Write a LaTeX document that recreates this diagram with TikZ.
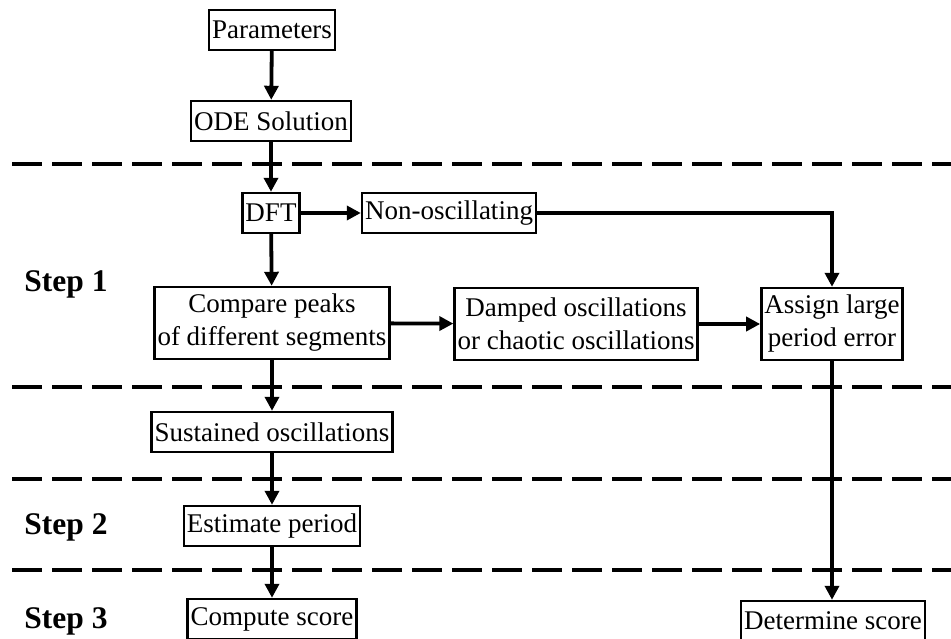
\documentclass[tikz,border=0pt]{standalone}
\usepackage{fontspec}
\setmainfont{Liberation Serif}
\usetikzlibrary{arrows.meta}
\tikzset{
  box/.style={draw, line width=2.4pt, inner xsep=3pt, inner ysep=2pt, align=center, minimum height=40pt, font=\fontsize{27}{33}\selectfont},
  tall/.style={minimum height=72pt},
  steplabel/.style={font=\fontsize{31.5}{34}\selectfont\bfseries},
  flow/.style={line width=3.8pt, -{Triangle[length=14pt,width=14pt]}},
  sep/.style={line width=3.8pt, dash pattern=on 30pt off 10pt}
}
\begin{document}
\begin{tikzpicture}[x=1pt,y=-1pt]
\useasboundingbox (0,0) rectangle (951,639);
% separators
\draw[sep] (12,164) -- (951,164);
\draw[sep] (12,387) -- (951,387);
\draw[sep] (12,479) -- (951,479);
\draw[sep] (12,570) -- (951,570);
% nodes
\node[box] (par) at (272,30) {Parameters};
\node[box] (ode) at (271,121) {ODE Solution};
\node[box] (dft) at (271,213) {DFT};
\node[box] (non) at (449,213) {Non-oscillating};
\node[box,tall] (cmp) at (272,323) {Compare peaks\\of different segments};
\node[box,tall] (dmp) at (576,324) {Damped oscillations\\or chaotic oscillations};
\node[box,tall] (asg) at (832,324) {Assign large\\period error};
\node[box] (sus) at (272,432) {Sustained oscillations};
\node[box] (est) at (272,526) {Estimate period};
\node[box] (cmpsc) at (272,619) {Compute score};
\node[box] (det) at (833,621) {Determine score};
\node[steplabel] (s1) at (66,284) {Step 1};
\node[steplabel] (s2) at (66,527) {Step 2};
\node[steplabel] (s3) at (66,621) {Step 3};
% connectors
\draw[flow] (par) -- (ode);
\draw[flow] (ode) -- (dft);
\draw[flow] (dft) -- (non);
\draw[flow] (non.east) -| (asg.north);
\draw[flow] (dft) -- (cmp);
\draw[flow] (cmp) -- (dmp);
\draw[flow] (dmp) -- (asg);
\draw[flow] (cmp) -- (sus);
\draw[flow] (sus) -- (est);
\draw[flow] (est) -- (cmpsc);
\draw[flow] (asg.south) -- (asg.south |- det.north);
\end{tikzpicture}
\end{document}
